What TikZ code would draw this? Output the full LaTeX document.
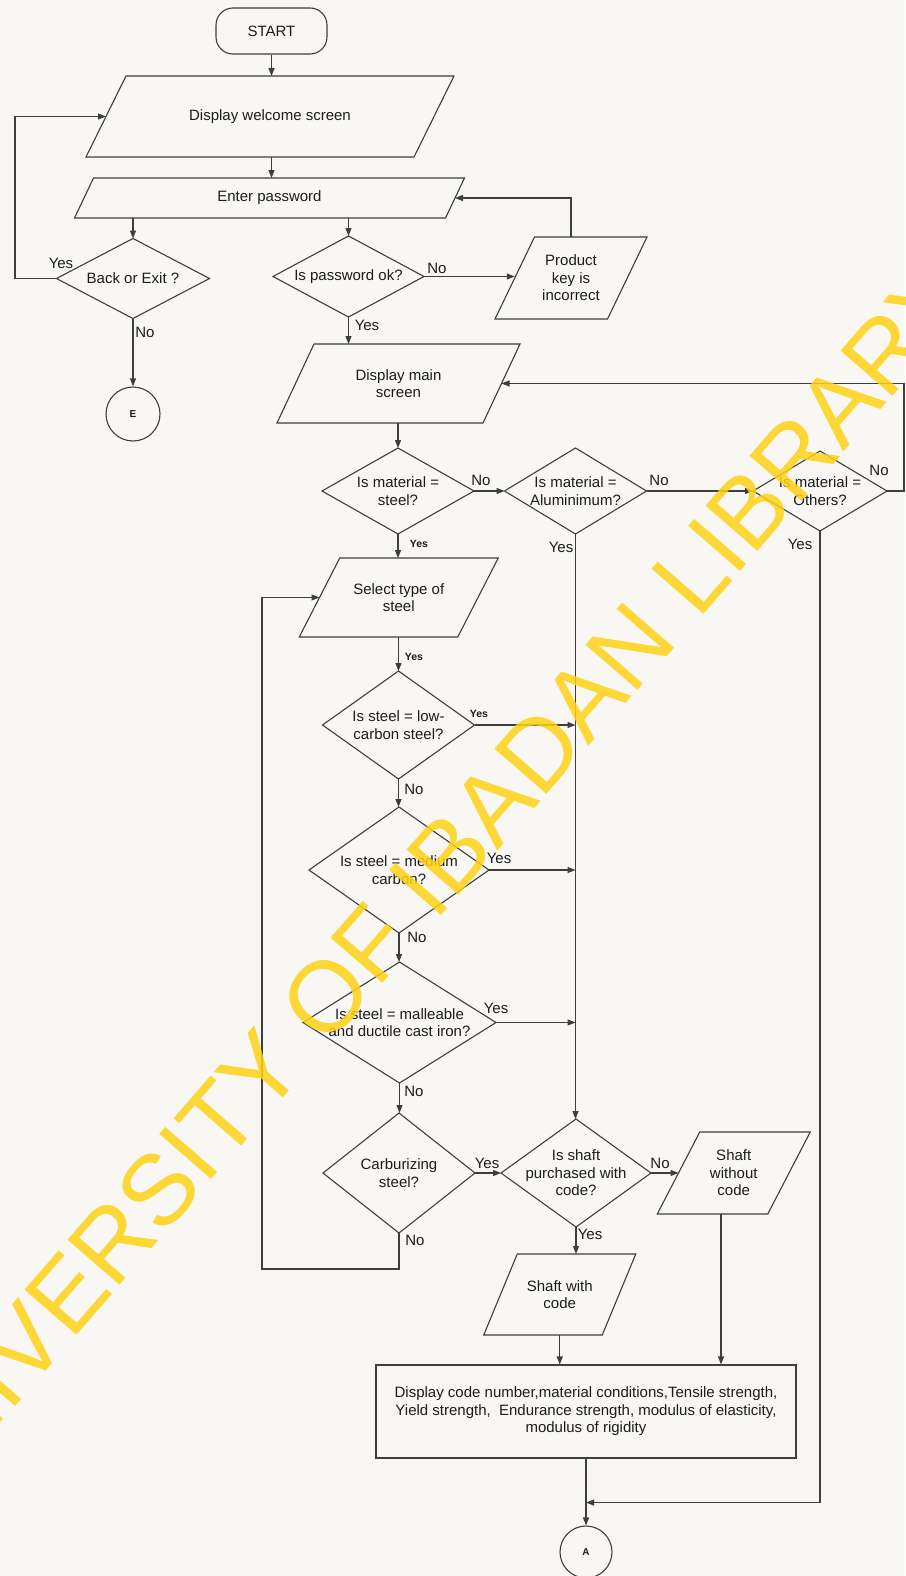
\documentclass[tikz,border=0pt]{standalone}
\usepackage{fontspec}
\setmainfont{Liberation Sans}
\usetikzlibrary{arrows.meta,calc}
\definecolor{ln}{RGB}{62,62,62}
\definecolor{tx}{RGB}{28,28,28}
\definecolor{bg}{RGB}{248,247,243}
\definecolor{wm}{RGB}{255,210,20}
\tikzset{
 shp/.style={draw=ln, line width=1.1pt, line join=miter},
 txt/.style={text=tx, font=\fontsize{15}{17.6}\selectfont, align=center, inner sep=0pt},
 lbl/.style={text=tx, font=\fontsize{15}{17}\selectfont, inner sep=0pt},
 slbl/.style={text=tx, font=\bfseries\fontsize{10.5}{12}\selectfont, inner sep=0pt},
 arr/.style={draw=ln, line width=1.1pt, -{Triangle[length=8pt,width=6pt]}},
 circ/.style={circle, draw=ln, line width=1.1pt, inner sep=0pt, text=tx, font=\bfseries\fontsize{10}{10}\selectfont}
}
\newcommand{\pgram}[7]{%
 \coordinate (#1-tl) at ({#2-#4+#6/2},{#3-#5});
 \coordinate (#1-tr) at ({#2+#4+#6/2},{#3-#5});
 \coordinate (#1-br) at ({#2+#4-#6/2},{#3+#5});
 \coordinate (#1-bl) at ({#2-#4-#6/2},{#3+#5});
 \coordinate (#1-n) at (#2,{#3-#5});
 \coordinate (#1-s) at (#2,{#3+#5});
 \coordinate (#1-w) at ({#2-#4},#3);
 \coordinate (#1-e) at ({#2+#4},#3);
 \draw[shp] (#1-tl) -- (#1-tr) -- (#1-br) -- (#1-bl) -- cycle;
 \node[txt] (#1) at (#2,#3) {#7};
}
\newcommand{\diam}[6]{%
 \coordinate (#1-n) at (#2,{#3-#5});
 \coordinate (#1-s) at (#2,{#3+#5});
 \coordinate (#1-w) at ({#2-#4},#3);
 \coordinate (#1-e) at ({#2+#4},#3);
 \draw[shp] (#1-n) -- (#1-e) -- (#1-s) -- (#1-w) -- cycle;
 \node[txt] (#1) at (#2,#3) {#6};
}
\begin{document}
\begin{tikzpicture}[x=1pt,y=-1pt]
\fill[bg] (0,0) rectangle (905,1576);
\useasboundingbox (0,0) rectangle (905,1576);

% shapes
\node[txt, shp, rounded corners=17pt, minimum width=111pt, minimum height=46pt] (start) at (271.5,31) {START};
\pgram{welcome}{270}{116.5}{164}{40.5}{40}{Display welcome screen}
\pgram{pass}{269.5}{198}{185.5}{20}{19}{Enter password}
\diam{bexit}{133}{278.5}{76.5}{40}{Back or Exit ?}
\diam{pwok}{348.5}{276.5}{75.5}{40.5}{Is password ok?}
\pgram{pkey}{571}{278}{56.25}{41}{39.5}{Product\\key is\\incorrect}
\node[circ, minimum size=54pt] (E) at (133,414) {E};
\pgram{dmain}{398.5}{383.5}{103}{39.5}{37}{Display main\\screen}
\diam{steel}{398}{491}{76}{43}{Is material =\\steel?}
\diam{alu}{575.5}{491}{71}{43}{Is material =\\Aluminimum?}
\diam{oth}{820}{491}{67}{40}{Is material =\\Others?}
\pgram{sel}{398.75}{597.5}{79.25}{39.5}{40.5}{Select type of\\steel}
\diam{lowc}{398.5}{725}{76}{54}{Is steel = low-\\carbon steel?}
\diam{med}{399}{870}{90}{63}{Is steel = medium\\carbon?}
\diam{mall}{399.5}{1022.5}{96.5}{60.5}{Is steel = malleable\\and ductile cast iron?}
\diam{carb}{399}{1173}{76}{60}{Carburizing\\steel?}
\diam{shaft}{576}{1173}{75}{54}{Is shaft\\purchased with\\code?}
\pgram{shc}{559.75}{1294.5}{59.25}{40.5}{33.5}{Shaft with\\code}
\pgram{shnc}{733.75}{1173}{55.25}{41}{42.5}{Shaft\\without\\code}
\node[txt, shp, minimum width=420pt, minimum height=93pt] (disp) at (586,1411.5) {Display code number,material conditions,Tensile strength,\\Yield strength,\ \ Endurance strength, modulus of elasticity,\\modulus of rigidity};
\node[circ, minimum size=52pt] (A) at (586,1552) {A};

% connectors
\draw[arr] (start.south) -- (start.south |- welcome-n);
\draw[arr] (start.south |- welcome-s) -- (start.south |- pass-n);
\draw[arr] (bexit-n |- pass-s) -- (bexit-n);
\draw[arr] (pwok-n |- pass-s) -- (pwok-n);
\draw[arr] (bexit-w) -- ++(-41.5,0) |- (welcome-w);
\draw[arr] (bexit-s) -- (E);
\draw[arr] (pwok-e) -- (pwok-e -| pkey-w);
\draw[arr] (pkey-n) |- (pass-e);
\draw[arr] (pwok-s) -- (pwok-s |- dmain-n);
\draw[arr] (steel-n |- dmain-s) -- (steel-n);
\draw[arr] (steel-e) -- (alu-w);
\draw[arr] (alu-e) -- (oth-w);
\draw[arr] (oth-e) -- ++(17,0) |- (dmain-e);
\draw[arr] (steel-s) -- (steel-s |- sel-n);
\draw[arr] (alu-s) -- (alu-s |- shaft-n);
\draw[arr] (lowc-n |- sel-s) -- (lowc-n);
\draw[arr] (lowc-e) -- (lowc-e -| alu-s);
\draw[arr] (lowc-s) -- (lowc-s |- med-n);
\draw[arr] (med-e) -- (med-e -| alu-s);
\draw[arr] (med-s) -- (med-s |- mall-n);
\draw[arr] (mall-e) -- (mall-e -| alu-s);
\draw[arr] (mall-s) -- (mall-s |- carb-n);
\draw[arr] (carb-e) -- (shaft-w);
\coordinate (loop) at (262,1269);
\draw[arr] (carb-s) |- (loop) |- (sel-w);
\draw[arr] (shaft-e) -- (shaft-e -| shnc-w);
\draw[arr] (shaft-s) -- (shaft-s |- shc-n);
\draw[arr] (shc-s) -- (shc-s |- disp.north);
\coordinate (shnc-out) at ($(shnc-s)+(-12.75,0)$);
\draw[arr] (shnc-out) -- (shnc-out |- disp.north);
\draw[arr] (disp.south) -- (A);
\path (disp.south) ++(0,44) coordinate (join);
\draw[arr] (oth-s) |- (join);

% labels
\node[lbl] (lb1) at (61,263) {Yes};
\node[lbl] (lb2) at (145,332) {No};
\node[lbl] (lb3) at (437,268) {No};
\node[lbl] (lb4) at (367,325) {Yes};
\node[lbl] (lb5) at (481,480) {No};
\node[lbl] (lb6) at (659,480) {No};
\node[lbl] (lb7) at (879,470) {No};
\node[lbl] (lb8) at (561,547) {Yes};
\node[lbl] (lb9) at (800,544) {Yes};
\node[slbl] (lb10) at (419,544) {Yes};
\node[slbl] (lb11) at (414,657) {Yes};
\node[slbl] (lb12) at (479,714) {Yes};
\node[lbl] (lb13) at (414,789) {No};
\node[lbl] (lb14) at (499,858) {Yes};
\node[lbl] (lb15) at (417,937) {No};
\node[lbl] (lb16) at (496,1008) {Yes};
\node[lbl] (lb17) at (414,1091) {No};
\node[lbl] (lb18) at (487,1163) {Yes};
\node[lbl] (lb19) at (415,1240) {No};
\node[lbl] (lb20) at (660,1163) {No};
\node[lbl] (lb21) at (590,1234) {Yes};

% watermark
\node[rotate=49, text=wm, text opacity=0.85, font=\fontsize{100}{100}\selectfont, inner sep=0pt] (wmark) at (420,888) {UNIVERSITY OF IBADAN LIBRARY};
\end{tikzpicture}
\end{document}
